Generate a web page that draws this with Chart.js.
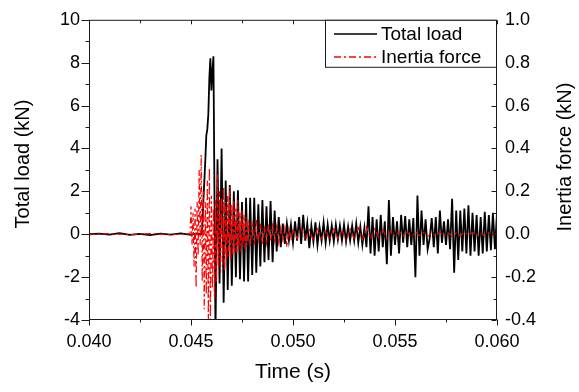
<!DOCTYPE html>
<html>
<head>
<meta charset="utf-8">
<script src="https://cdn.jsdelivr.net/npm/chart.js@4.4.1/dist/chart.umd.min.js"></script>
<style>
  html, body { margin: 0; padding: 0; background: #fff; }
  #wrap { width: 579px; height: 392px; }
</style>
</head>
<body>
<div id="wrap"><canvas id="chart" width="579" height="392"></canvas></div>
<script>
// axis ticks
const timeTicks = [0.040, 0.045, 0.050, 0.055, 0.060];
const timeMinor = [0.0425, 0.0475, 0.0525, 0.0575];
const loadTicks = [-4, -2, 0, 2, 4, 6, 8, 10];
const loadMinor = [-3, -1, 1, 3, 5, 7, 9];
const inertiaTicks = [-0.4, -0.2, 0.0, 0.2, 0.4, 0.6, 0.8, 1.0];
const inertiaMinor = [-0.3, -0.1, 0.1, 0.3, 0.5, 0.7, 0.9];

// Total load (kN)
const totalTime = [
  0.0400, 0.0405, 0.0410, 0.0415, 0.0420, 0.0425, 0.0430, 0.0435, 0.0440, 0.0445, 0.0450, 0.04525, 0.0455,
  0.04555, 0.0456, 0.0457, 0.04575, 0.0458, 0.04585, 0.0459, 0.04595, 0.0460, 0.04605, 0.0461,
  0.0462, 0.0463, 0.0464, 0.0465, 0.0466, 0.0467, 0.0468, 0.0469, 0.0470, 0.0471,
  0.0472, 0.0473, 0.0474, 0.0475, 0.0476, 0.0477, 0.0478, 0.0479, 0.0480, 0.0481,
  0.0482, 0.0483, 0.0484, 0.0485, 0.0486, 0.0487, 0.0488, 0.0489, 0.0490, 0.0491,
  0.0492, 0.0493, 0.0494, 0.0495, 0.0496, 0.0497, 0.0498, 0.0499, 0.0500,
  0.0501, 0.0502, 0.0503, 0.0504, 0.0505, 0.0506, 0.0507, 0.0508, 0.0509, 0.0510,
  0.0511, 0.0512, 0.0513, 0.0514, 0.0515, 0.0516, 0.0517, 0.0518, 0.0519, 0.0520,
  0.0521, 0.0522, 0.0523, 0.0524, 0.0525, 0.0526, 0.0527, 0.0528, 0.0529, 0.0530,
  0.0531, 0.0532, 0.0533, 0.0534, 0.0535, 0.0536, 0.0537, 0.0538, 0.0539, 0.0540,
  0.0541, 0.0542, 0.0543, 0.0544, 0.0545, 0.0546, 0.0547, 0.0548, 0.0549, 0.0550,
  0.0551, 0.0552, 0.0553, 0.0554, 0.0555, 0.0556, 0.0557, 0.0558, 0.0559, 0.0560,
  0.0561, 0.0562, 0.0563, 0.0564, 0.0565, 0.0566, 0.0567, 0.0568, 0.0569, 0.0570,
  0.0571, 0.0572, 0.0573, 0.0574, 0.0575, 0.0576, 0.0577, 0.0578, 0.0579, 0.0580,
  0.0581, 0.0582, 0.0583, 0.0584, 0.0585, 0.0586, 0.0587, 0.0588, 0.0589, 0.0590,
  0.0591, 0.0592, 0.0593, 0.0594, 0.0595, 0.0596, 0.0597, 0.0598, 0.0599, 0.0600
];
const totalLoad = [
  0.00, 0.03, -0.02, 0.05, -0.03, 0.02, -0.04, 0.03, -0.02, 0.04, -0.03, 0.04, 0.00,
  0.3, 1.4, 3.4, 4.6, 4.9, 5.6, 7.3, 8.2, 6.7, 7.6, 8.3,
  -4.6, 3.5, -2.3, 4.0, -3.2, 2.5, -2.6, 2.3, -2.4, 2.0,
  -2.0, 2.05, -2.1, 1.5, -2.2, 1.7, -2.2, 1.7, -1.9, 1.7,
  -1.8, 1.4, -1.5, 1.6, -1.3, 1.3, -1.2, 1.55, -1.3, 1.1,
  -0.8, 0.8, -0.6, 0.5, -0.45, 0.5, -0.3, 0.45, -0.4,
  0.6, -0.3, 0.8, -0.45, 0.9, -0.3, 0.5, -0.65, 0.4, -0.35,
  0.55, -0.5, 0.35, -0.3, 0.55, -0.4, 0.45, -0.3, 0.4, -0.35,
  0.45, -0.25, 0.4, -0.3, 0.45, -0.35, 0.35, -0.3, 0.4, -0.3,
  0.5, -0.4, 0.35, -0.5, 0.3, -0.6, 1.3, -0.9, 0.8, -1.0,
  0.7, -0.8, 0.9, -0.6, 0.6, -1.4, 1.6, -1.0, 0.8, -0.5,
  0.6, -0.9, 0.9, -0.4, 0.85, -0.6, 0.7, -0.5, 0.75, -2.0,
  1.8, -1.0, 1.1, -0.5, 0.7, -0.7, -0.2, 0.75, -0.6, 0.8,
  -0.9, 1.1, -0.4, 0.6, -0.5, 0.7, -0.7, 1.65, -1.8, 1.1,
  -1.2, 1.1, -0.8, 1.2, -0.9, 1.35, -1.0, 1.0, -0.8, 0.9,
  -1.0, 0.8, -0.9, 1.05, -0.8, 0.9, -0.75, 1.0, -0.7, 1.0
];

// Inertia force (kN), right axis
const inertiaTime = [
  0.0400, 0.0410, 0.0420, 0.0430, 0.0440, 0.0449,
  0.04495, 0.0450, 0.04505, 0.0451, 0.04515, 0.0452, 0.04525, 0.0453, 0.04535, 0.0454,
  0.04545, 0.0455, 0.04555, 0.0456, 0.04565, 0.0457, 0.04575, 0.0458, 0.04585, 0.0459,
  0.04595, 0.0460, 0.04605, 0.0461, 0.04615, 0.0462, 0.04625, 0.0463, 0.04635, 0.0464,
  0.04645, 0.0465, 0.04655, 0.0466, 0.04665, 0.0467, 0.04675, 0.0468, 0.04685, 0.0469,
  0.04695, 0.0470, 0.04705, 0.0471, 0.04715, 0.0472, 0.04725, 0.0473, 0.04735, 0.0474,
  0.04745, 0.0475, 0.04755, 0.0476, 0.04765, 0.0477, 0.04775, 0.0478,
  0.0479, 0.0480, 0.0481, 0.0482, 0.0483, 0.0484, 0.0485, 0.0486, 0.0487, 0.0488,
  0.0489, 0.0490, 0.0491, 0.0492, 0.0493, 0.0494, 0.0495, 0.0496, 0.0497, 0.0498, 0.0499, 0.0500,
  0.0502, 0.0504, 0.0506, 0.0508, 0.0510, 0.0512, 0.0514, 0.0516, 0.0518, 0.0520,
  0.0522, 0.0524, 0.0526, 0.0528, 0.0530, 0.0532, 0.0534, 0.0536, 0.0538, 0.0540,
  0.0542, 0.0544, 0.0546, 0.0548, 0.0550, 0.0552, 0.0554, 0.0556, 0.0558, 0.0560,
  0.0562, 0.0564, 0.0566, 0.0568, 0.0570, 0.0572, 0.0574, 0.0576, 0.0578, 0.0580,
  0.0582, 0.0584, 0.0586, 0.0588, 0.0590, 0.0592, 0.0594, 0.0596, 0.0598, 0.0600
];
const inertiaForce = [
  0.000, 0.003, -0.002, 0.003, -0.002, 0.002,
  0.0, 0.13, -0.05, 0.10, -0.15, 0.12, -0.25, 0.15, -0.10, 0.30,
  -0.05, 0.37, -0.22, 0.20, -0.35, 0.15, -0.28, 0.25, -0.40, 0.31,
  -0.42, 0.18, -0.25, 0.12, -0.30, 0.16, -0.22, 0.28, -0.15, 0.20,
  -0.18, 0.17, -0.14, 0.22, -0.17, 0.15, -0.12, 0.18, -0.10, 0.22,
  -0.12, 0.14, -0.10, 0.16, -0.08, 0.12, -0.09, 0.16, -0.07, 0.10,
  -0.08, 0.11, -0.06, 0.09, -0.07, 0.08, -0.05, 0.07,
  -0.06, 0.06, -0.05, 0.07, -0.04, 0.05, -0.05, 0.04, -0.04, 0.05,
  -0.035, 0.04, -0.03, 0.035, -0.04, 0.03, -0.025, 0.03, -0.06, 0.025, -0.03, 0.025,
  -0.02, 0.03, -0.025, 0.02, -0.03, 0.025, -0.02, 0.02, -0.025, 0.03,
  -0.02, 0.02, -0.03, 0.025, -0.02, 0.03, -0.025, 0.035, -0.02, 0.025,
  -0.015, 0.02, -0.02, 0.015, -0.01, 0.012, -0.008, 0.01, -0.012, 0.01,
  -0.006, 0.008, -0.01, 0.006, -0.008, 0.01, -0.006, 0.008, -0.01, 0.006,
  -0.008, 0.01, -0.005, 0.008, -0.006, 0.007, -0.008, 0.006, -0.005, 0.004
];

const FONT = '"Liberation Sans", Arial, sans-serif';
Chart.defaults.font.family = FONT;
Chart.defaults.color = '#000';

function pairs(xs, ys) {
  return xs.map((x, i) => ({ x: x, y: ys[i] }));
}

// frame, tick marks, axis titles and the boxed legend
const framePlugin = {
  id: 'frame',
  afterDraw(chart) {
    const ctx = chart.ctx;
    const a = chart.chartArea;
    const sx = chart.scales.x, sl = chart.scales.y, sr = chart.scales.y2;
    const L = a.left + 0.5, R = a.right - 0.5, T = a.top + 0.5, B = a.bottom - 0.5;

    ctx.save();
    ctx.strokeStyle = '#1a1a1a';
    ctx.lineWidth = 1;
    ctx.setLineDash([]);
    ctx.strokeRect(L, T, R - L, B - T);

    function seg(x1, y1, x2, y2) {
      ctx.beginPath(); ctx.moveTo(x1, y1); ctx.lineTo(x2, y2); ctx.stroke();
    }
    timeTicks.forEach(v => {
      const px = Math.round(sx.getPixelForValue(v)) + 0.5;
      seg(px, B, px, B + 6);
      seg(px, T, px, T + 4);
    });
    timeMinor.forEach(v => {
      const px = Math.round(sx.getPixelForValue(v)) + 0.5;
      seg(px, B, px, B + 3);
      seg(px, T, px, T + 3);
    });
    loadTicks.forEach(v => {
      const py = Math.round(sl.getPixelForValue(v)) + 0.5;
      seg(L - 8, py, L, py);
    });
    loadMinor.forEach(v => {
      const py = Math.round(sl.getPixelForValue(v)) + 0.5;
      seg(L - 4, py, L, py);
    });
    inertiaTicks.forEach(v => {
      const py = Math.round(sr.getPixelForValue(v)) + 0.5;
      seg(R - 5, py, R, py);
    });
    inertiaMinor.forEach(v => {
      const py = Math.round(sr.getPixelForValue(v)) + 0.5;
      seg(R - 3, py, R, py);
    });

    // legend box
    ctx.fillStyle = '#fff';
    ctx.fillRect(325.5, T, R - 325.5, 47);
    ctx.strokeRect(325.5, T, R - 325.5, 47);
    ctx.lineWidth = 1.5;
    ctx.strokeStyle = '#000';
    seg(334, 34, 377, 34);
    ctx.strokeStyle = '#ff0000';
    ctx.setLineDash([7, 3, 2, 3]);
    seg(334, 57, 377, 57);
    ctx.setLineDash([]);
    ctx.fillStyle = '#000';
    ctx.font = '19px ' + FONT;
    ctx.textAlign = 'left';
    ctx.textBaseline = 'alphabetic';
    ctx.fillText('Total load', 381, 40);
    ctx.fillText('Inertia force', 381, 63);

    // axis titles
    ctx.font = '21px ' + FONT;
    ctx.textAlign = 'center';
    ctx.textBaseline = 'middle';
    ctx.fillText('Time (s)', (a.left + a.right) / 2, 372);
    ctx.font = '20px ' + FONT;
    ctx.save();
    ctx.translate(23, 164);
    ctx.rotate(-Math.PI / 2);
    ctx.fillText('Total load (kN)', 0, 0);
    ctx.restore();
    ctx.save();
    ctx.translate(565, 157);
    ctx.rotate(-Math.PI / 2);
    ctx.fillText('Inertia force (kN)', 0, 0);
    ctx.restore();
    ctx.restore();
  }
};

new Chart(document.getElementById('chart'), {
  type: 'line',
  data: {
    datasets: [{
      label: 'Total load',
      data: pairs(totalTime, totalLoad),
      borderColor: '#000',
      borderWidth: 1.8,
      pointRadius: 0,
      tension: 0,
      yAxisID: 'y',
      order: 1
    }, {
      label: 'Inertia force',
      data: pairs(inertiaTime, inertiaForce),
      borderColor: '#ff0000',
      borderWidth: 1.2,
      borderDash: [6, 3, 2, 3],
      pointRadius: 0,
      tension: 0,
      yAxisID: 'y2',
      order: 0
    }]
  },
  options: {
    responsive: false,
    animation: false,
    events: [],
    layout: { padding: { top: 19, left: 0, right: 0, bottom: 0 } },
    plugins: {
      legend: { display: false },
      tooltip: { enabled: false }
    },
    scales: {
      x: {
        type: 'linear',
        position: 'bottom',
        min: 0.040,
        max: 0.060,
        grid: { display: false, drawTicks: false },
        border: { display: false },
        afterBuildTicks: s => { s.ticks = timeTicks.map(v => ({ value: v })); },
        afterFit: s => { s.height = 72; },
        ticks: {
          font: { size: 18 },
          padding: 11,
          maxRotation: 0,
          autoSkip: false,
          callback: v => Number(v).toFixed(3)
        }
      },
      y: {
        position: 'left',
        min: -4,
        max: 10,
        grid: { display: false, drawTicks: false },
        border: { display: false },
        afterBuildTicks: s => { s.ticks = loadTicks.map(v => ({ value: v })); },
        afterFit: s => { s.width = 89; },
        ticks: {
          font: { size: 18 },
          padding: 9,
          autoSkip: false,
          callback: v => String(v)
        }
      },
      y2: {
        position: 'right',
        min: -0.4,
        max: 1.0,
        grid: { display: false, drawTicks: false },
        border: { display: false },
        afterBuildTicks: s => { s.ticks = inertiaTicks.map(v => ({ value: v })); },
        afterFit: s => { s.width = 82; },
        ticks: {
          font: { size: 18 },
          padding: 8,
          autoSkip: false,
          callback: v => Number(v).toFixed(1)
        }
      }
    }
  },
  plugins: [framePlugin]
});
</script>
</body>
</html>
